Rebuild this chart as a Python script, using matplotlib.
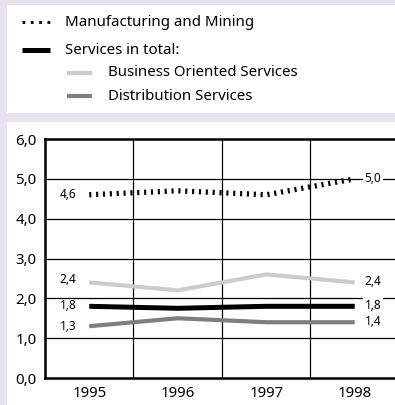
import matplotlib
matplotlib.use("Agg")
import matplotlib.pyplot as plt
from matplotlib.patches import Rectangle
from matplotlib.lines import Line2D

plt.rcParams['font.family'] = ['Noto Sans', 'DejaVu Sans']

years = ["1995", "1996", "1997", "1998"]
manufacturing = [4.6, 4.7, 4.6, 5.0]
services_total = [1.8, 1.75, 1.8, 1.8]
business = [2.4, 2.2, 2.6, 2.4]
distribution = [1.3, 1.5, 1.4, 1.4]
y_ticks = [0, 1, 2, 3, 4, 5, 6]
y_ticklabels = ["0,0", "1,0", "2,0", "3,0", "4,0", "5,0", "6,0"]
legend_labels = ["Manufacturing and Mining", "Services in total:",
                 "Business Oriented Services", "Distribution Services"]
left_labels = ["4,6", "1,8", "2,4", "1,3"]
right_labels = ["5,0", "1,8", "2,4", "1,4"]

W, H = 395, 405
BG = "#e7e3f0"
LIGHT = "#cccccc"
DARK = "#7f7f7f"

fig = plt.figure(figsize=(W / 100, H / 100), dpi=100, facecolor=BG)

def fx(px):
    return px / W

def fy(py):
    return 1 - py / H

# white panels
fig.patches.append(Rectangle((fx(7), fy(113)), fx(W - 7) + 0.01, (113 - 5) / H,
                             transform=fig.transFigure, facecolor="white",
                             edgecolor="none", zorder=-10))
fig.patches.append(Rectangle((fx(7), 0), fx(W - 7) + 0.01, (H - 122) / H,
                             transform=fig.transFigure, facecolor="white",
                             edgecolor="none", zorder=-10))

# legend
leg = [
    (22, 51, 22, 65, dict(color="black", lw=2.0, linestyle=(0, (1.0, 2.0)), dash_capstyle="butt")),
    (22, 50, 50, 65, dict(color="black", lw=3.6, solid_capstyle="butt")),
    (67, 92, 73, 108, dict(color=LIGHT, lw=3.0, solid_capstyle="butt")),
    (67, 92, 96, 108, dict(color=DARK, lw=3.0, solid_capstyle="butt")),
]
for (x0, x1, yy, tx, st), lab in zip(leg, legend_labels):
    fig.add_artist(Line2D([fx(x0), fx(x1)], [fy(yy), fy(yy)], transform=fig.transFigure, **st))
    fig.text(fx(tx), fy(yy), lab, fontsize=10.8, va="center", ha="left", color="black")

ax = fig.add_axes([fx(45), fy(378), fx(395 - 45) + 0.01, (378 - 139) / H])
ax.set_zorder(1)
ax.set_facecolor("white")
x = list(range(len(years)))

dot_style = (0, (0.4, 0.9))
ax.plot(x, business, color=LIGHT, lw=3.0, solid_capstyle="butt", zorder=3)
ax.plot(x, distribution, color=DARK, lw=3.0, solid_capstyle="butt", zorder=3)
ax.plot(x, services_total, color="black", lw=3.6, solid_capstyle="butt", zorder=4)
ax.plot(x, manufacturing, color="black", lw=3.8, linestyle=dot_style,
        dash_capstyle="butt", zorder=4)

ax.set_xlim(-0.5, 3.5)
ax.set_ylim(0, 6)
ax.set_yticks(y_ticks)
ax.set_yticklabels(y_ticklabels)
ax.set_xticks(x)
ax.set_xticklabels(years)
ax.tick_params(length=0, labelsize=10.8, pad=6)

for v in y_ticks[1:-1]:
    ax.axhline(v, color="black", lw=0.9, zorder=1)
for v in [0.5, 1.5, 2.5]:
    ax.axvline(v, color="black", lw=0.9, zorder=1)

for s in ["left", "bottom", "top"]:
    ax.spines[s].set_linewidth(1.8)
ax.spines["right"].set_visible(False)

# value labels
series = [manufacturing, services_total, business, distribution]
left_off = [0, 1, 3, 0]
for vals, lab, dy in zip(series, left_labels, left_off):
    ax.annotate(lab, (0, vals[0]), xytext=(-13, dy), textcoords="offset pixels",
                ha="right", va="center", fontsize=8.5)
right_off = [0, 1, 1, 1]
for vals, lab, dy in zip(series, right_labels, right_off):
    ax.annotate(lab, (3, vals[-1]), xytext=(10, dy), textcoords="offset pixels",
                ha="left", va="center", fontsize=8.5,
                bbox=dict(facecolor="white", edgecolor="none", pad=1.0))

fig.savefig("out.png", dpi=100, facecolor=BG)
